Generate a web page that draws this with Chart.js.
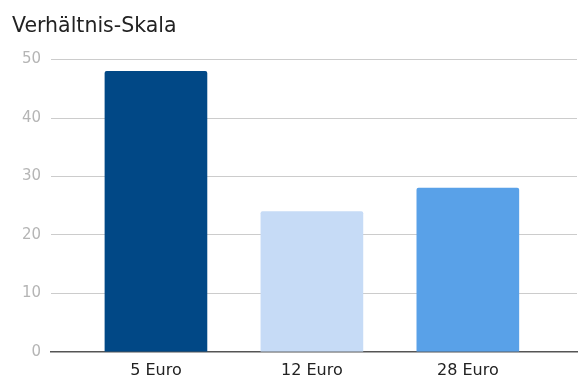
<!DOCTYPE html>
<html>
<head>
<meta charset="utf-8">
<script src="https://cdn.jsdelivr.net/npm/chart.js@4"></script>
<style>
  html, body { margin: 0; padding: 0; background: #fff; }
</style>
</head>
<body>
<canvas id="chart" width="588" height="389"></canvas>
<script>
const categories = ['5 Euro', '12 Euro', '28 Euro'];
const values = [48, 24, 28];
const barColors = ['#014886', '#c6dbf6', '#59a1e8'];
const yTicks = [0, 10, 20, 30, 40, 50];

const fontFamily = '"DejaVu Sans", Verdana, sans-serif';

const ctx = document.getElementById('chart').getContext('2d');
new Chart(ctx, {
    type: 'bar',
    data: {
        datasets: [{
            data: values.map((v, i) => ({ x: i, y: v })),
            backgroundColor: barColors,
            borderWidth: 0,
            borderRadius: { topLeft: 2, topRight: 2 },
            borderSkipped: 'bottom',
            barThickness: 102
        }]
    },
    options: {
        responsive: false,
        animation: false,
        layout: { padding: { left: 12, right: 11, top: 0, bottom: 0 } },
        plugins: {
            legend: { display: false },
            tooltip: { enabled: false },
            title: {
                display: true,
                text: 'Verhältnis-Skala',
                align: 'start',
                color: '#222',
                font: { family: fontFamily, size: 20.5, weight: 'normal' },
                padding: { top: 14, bottom: 21 }
            }
        },
        scales: {
            x: {
                type: 'linear',
                offset: false,
                min: -0.673,
                max: 2.7,
                afterBuildTicks: scale => {
                    scale.ticks = categories.map((c, i) => ({ value: i }));
                },
                ticks: {
                    callback: (v) => categories[v],
                    color: '#222',
                    font: { family: fontFamily, size: 16 },
                    padding: 9,
                    maxRotation: 0,
                    autoSkip: false
                },
                grid: { display: false, drawTicks: false },
                border: { display: true, color: '#555', width: 1.5 }
            },
            y: {
                min: 0,
                max: 50,
                afterBuildTicks: scale => {
                    scale.ticks = yTicks.map(v => ({ value: v }));
                },
                afterFit: scale => { scale.width = 39; },
                ticks: {
                    color: '#b5b5b5',
                    font: { family: fontFamily, size: 15 },
                    padding: 10
                },
                grid: { color: '#cccccc', lineWidth: 1, drawTicks: false },
                border: { display: false }
            }
        }
    }
});
</script>
</body>
</html>
